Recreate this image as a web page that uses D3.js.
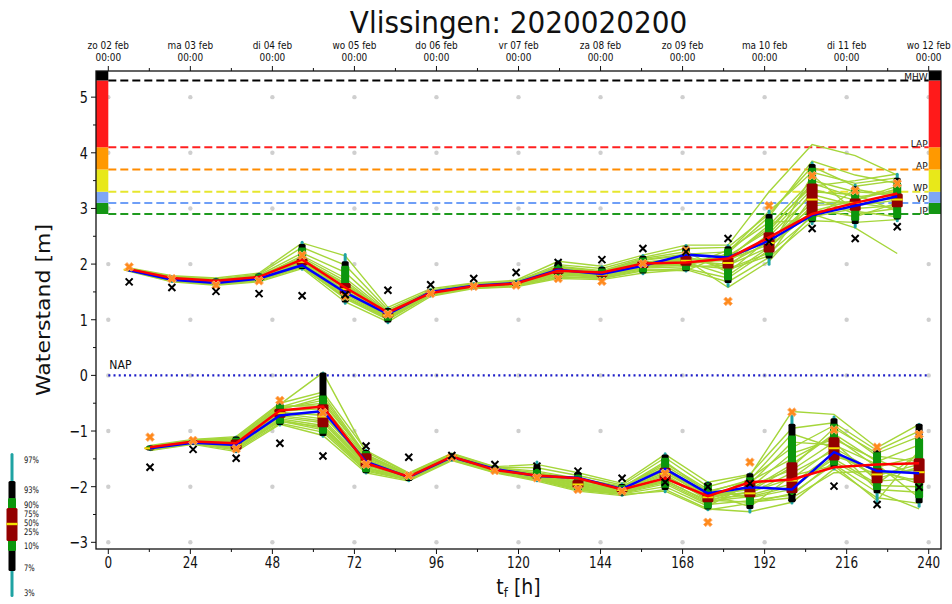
<!DOCTYPE html>
<html>
<head>
<meta charset="utf-8">
<script src="https://cdn.jsdelivr.net/npm/d3@7/dist/d3.min.js"></script>
<style>
  body { margin: 0; background: #fff; }
  text { font-family: "DejaVu Sans", sans-serif; fill: #111; }
</style>
</head>
<body>
<svg id="chart" width="952" height="604"></svg>
<script>
// ---- data ----
var titleText = "Vlissingen: 2020020200";
var dayLabels = ["zo 02 feb", "ma 03 feb", "di 04 feb", "wo 05 feb", "do 06 feb", "vr 07 feb",
                 "za 08 feb", "zo 09 feb", "ma 10 feb", "di 11 feb", "wo 12 feb"];
var hourTicks = [0, 24, 48, 72, 96, 120, 144, 168, 192, 216, 240];
var levelTicks = [-3, -2, -1, 0, 1, 2, 3, 4, 5];

// warning levels (m)
var levelNames  = ["IP", "VP", "WP", "AP", "LAP", "MHW"];
var levelValues = [2.9, 3.1, 3.3, 3.7, 4.1, 5.3];

// times of high water and low water (hours after 02 feb 00:00)
var tHW = [6.1, 18.6, 31.5, 44.1, 56.7, 69.3, 81.8, 94.3, 106.9, 119.3, 131.6, 144.4, 156.4, 169.0, 181.3, 193.3, 205.9, 218.5, 230.8];
var tLW = [12.2, 24.8, 37.4, 50.2, 62.8, 75.4, 87.9, 100.5, 113.1, 125.4, 137.4, 150.3, 162.9, 175.4, 187.7, 200.0, 212.3, 224.9, 237.2];

// ensemble percentiles per tide: 3, 7, 10, 25, 50, 75, 90, 93, 97 %
var pctLevels = [3, 7, 10, 25, 50, 75, 90, 93, 97];
var hwBox = [
  [1.86, 1.87, 1.88, 1.89, 1.90, 1.91, 1.92, 1.93, 1.94],
  [1.66, 1.68, 1.69, 1.71, 1.73, 1.76, 1.78, 1.79, 1.80],
  [1.60, 1.62, 1.63, 1.65, 1.68, 1.71, 1.73, 1.74, 1.76],
  [1.66, 1.68, 1.69, 1.72, 1.75, 1.79, 1.82, 1.83, 1.85],
  [1.88, 1.91, 1.93, 1.98, 2.04, 2.10, 2.30, 2.36, 2.42],
  [1.27, 1.31, 1.35, 1.46, 1.55, 1.66, 1.97, 2.05, 2.20],
  [0.92, 0.95, 0.98, 1.04, 1.08, 1.13, 1.18, 1.21, 1.24],
  [1.40, 1.42, 1.44, 1.46, 1.48, 1.51, 1.53, 1.55, 1.57],
  [1.54, 1.56, 1.57, 1.59, 1.61, 1.63, 1.65, 1.66, 1.68],
  [1.57, 1.59, 1.60, 1.62, 1.64, 1.67, 1.69, 1.70, 1.72],
  [1.70, 1.73, 1.76, 1.82, 1.87, 1.93, 2.00, 2.04, 2.08],
  [1.70, 1.72, 1.74, 1.77, 1.81, 1.85, 1.92, 1.95, 1.98],
  [1.80, 1.83, 1.85, 1.93, 2.00, 2.06, 2.12, 2.15, 2.18],
  [1.85, 1.87, 1.89, 1.97, 2.06, 2.15, 2.30, 2.33, 2.36],
  [1.58, 1.66, 1.71, 1.92, 2.02, 2.12, 2.28, 2.32, 2.36],
  [1.97, 2.10, 2.15, 2.21, 2.38, 2.57, 2.82, 2.90, 2.98],
  [2.70, 2.75, 2.78, 2.87, 3.16, 3.45, 3.73, 3.80, 3.85],
  [2.64, 2.72, 2.78, 2.96, 3.10, 3.18, 3.36, 3.40, 3.45],
  [2.75, 2.80, 2.82, 3.02, 3.16, 3.27, 3.46, 3.55, 3.64]
];
var lwBox = [
  [-1.36, -1.35, -1.34, -1.33, -1.31, -1.29, -1.27, -1.26, -1.25],
  [-1.25, -1.24, -1.23, -1.22, -1.20, -1.18, -1.16, -1.15, -1.14],
  [-1.40, -1.38, -1.36, -1.33, -1.24, -1.15, -1.12, -1.10, -1.08],
  [-0.92, -0.89, -0.87, -0.76, -0.68, -0.60, -0.52, -0.50, -0.47],
  [-1.12, -1.09, -1.05, -0.93, -0.74, -0.52, -0.36, 0.05, 0.07],
  [-1.78, -1.76, -1.74, -1.65, -1.55, -1.40, -1.36, -1.34, -1.32],
  [-1.92, -1.90, -1.88, -1.85, -1.82, -1.79, -1.76, -1.75, -1.74],
  [-1.55, -1.53, -1.52, -1.49, -1.46, -1.43, -1.41, -1.40, -1.39],
  [-1.76, -1.75, -1.74, -1.72, -1.70, -1.67, -1.65, -1.64, -1.63],
  [-1.92, -1.90, -1.88, -1.85, -1.82, -1.78, -1.68, -1.60, -1.53],
  [-2.10, -2.08, -2.06, -2.02, -1.96, -1.88, -1.78, -1.74, -1.70],
  [-2.18, -2.16, -2.14, -2.10, -2.06, -2.02, -1.97, -1.95, -1.92],
  [-2.12, -2.06, -2.02, -1.88, -1.77, -1.66, -1.48, -1.42, -1.38],
  [-2.44, -2.41, -2.39, -2.28, -2.19, -2.10, -1.94, -1.92, -1.90],
  [-2.48, -2.40, -2.33, -2.19, -2.12, -1.89, -1.83, -1.76, -1.74],
  [-2.32, -2.28, -2.15, -2.12, -1.89, -1.56, -1.08, -0.87, -0.66],
  [-1.71, -1.66, -1.62, -1.53, -1.31, -1.11, -0.87, -0.77, -0.72],
  [-2.33, -2.12, -2.06, -1.94, -1.78, -1.67, -1.38, -1.33, -1.30],
  [-2.38, -2.30, -2.21, -1.94, -1.74, -1.49, -1.13, -0.87, -0.85]
];

// blue and red forecast lines
var hwBlue = [1.89, 1.72, 1.66, 1.74, 1.98, 1.49, 1.10, 1.50, 1.61, 1.66, 1.90, 1.82, 1.97, 2.17, 2.12, 2.42, 2.88, 3.05, 3.22];
var hwRed  = [1.91, 1.75, 1.70, 1.77, 2.08, 1.58, 1.13, 1.48, 1.60, 1.65, 1.88, 1.85, 2.01, 2.03, 2.10, 2.48, 2.90, 3.10, 3.27];
var lwBlue = [-1.31, -1.21, -1.25, -0.72, -0.64, -1.55, -1.83, -1.47, -1.68, -1.81, -1.84, -2.04, -1.68, -2.12, -2.01, -2.05, -1.38, -1.72, -1.76];
var lwRed  = [-1.29, -1.19, -1.22, -0.63, -0.56, -1.58, -1.82, -1.46, -1.70, -1.80, -1.85, -2.05, -1.85, -2.17, -1.92, -1.87, -1.65, -1.60, -1.58];

// black crosses and orange markers
var hwBlack  = [1.68, 1.58, 1.51, 1.47, 1.43, 1.45, 1.53, 1.63, 1.74, 1.85, 2.03, 2.08, 2.28, 2.22, 2.46, 2.40, 2.64, 2.46, 2.67];
var hwOrange = [1.95, 1.74, 1.62, 1.70, 2.16, 1.42, 1.10, 1.47, 1.60, 1.62, 1.74, 1.69, 2.01, 2.24, 1.33, 3.05, 3.59, 3.32, 3.45];
var lwBlack  = [-1.65, -1.33, -1.49, -1.22, -1.45, -1.27, -1.47, -1.44, -1.60, -1.63, -1.72, -1.85, -1.92, -2.00, -1.94, -2.19, -1.99, -2.32, -2.01];
var lwOrange = [-1.11, -1.17, -1.32, -0.45, -0.67, -1.60, -1.80, -1.47, -1.71, -1.84, -2.05, -2.08, -1.76, -2.64, -1.56, -0.66, -0.98, -1.29, -1.06];

// a selection of the ensemble members (lime lines)
var hwMembers = [
  [1.90, 1.74, 1.69, 1.76, 2.05, 1.56, 1.08, 1.48, 1.61, 1.65, 1.88, 1.80, 2.01, 2.05, 2.00, 2.40, 3.10, 3.12, 3.18],
  [1.89, 1.72, 1.66, 1.73, 1.99, 1.48, 1.05, 1.46, 1.59, 1.62, 1.83, 1.77, 1.95, 1.98, 1.92, 2.20, 2.85, 3.00, 3.05],
  [1.91, 1.76, 1.71, 1.79, 2.12, 1.70, 1.12, 1.51, 1.63, 1.67, 1.93, 1.86, 2.07, 2.16, 2.15, 2.60, 3.45, 3.20, 3.30],
  [1.88, 1.70, 1.63, 1.70, 1.95, 1.38, 1.00, 1.44, 1.57, 1.60, 1.78, 1.74, 1.88, 1.92, 1.75, 2.25, 3.60, 2.95, 2.85],
  [1.92, 1.78, 1.73, 1.82, 2.30, 1.98, 1.18, 1.53, 1.65, 1.69, 1.99, 1.92, 2.12, 2.28, 2.30, 2.90, 3.75, 3.40, 3.50],
  [1.90, 1.73, 1.67, 1.74, 2.02, 1.60, 1.10, 1.49, 1.62, 1.64, 1.85, 1.83, 2.02, 2.10, 2.05, 2.50, 3.25, 3.05, 3.15],
  [1.87, 1.68, 1.62, 1.68, 1.92, 1.32, 0.96, 1.42, 1.56, 1.59, 1.74, 1.72, 1.84, 1.90, 1.68, 2.12, 2.78, 2.75, 2.80],
  [1.93, 1.79, 1.75, 1.84, 2.38, 2.15, 1.22, 1.56, 1.66, 1.71, 2.05, 1.96, 2.16, 2.34, 2.34, 3.30, 4.15, 3.95, 3.60],
  [1.90, 1.75, 1.70, 1.77, 2.08, 1.66, 1.13, 1.50, 1.60, 1.66, 1.90, 1.79, 1.98, 2.02, 2.10, 2.70, 3.50, 3.30, 3.25],
  [1.89, 1.71, 1.65, 1.72, 1.97, 1.45, 1.04, 1.47, 1.58, 1.63, 1.81, 1.76, 1.93, 1.95, 1.98, 2.30, 2.95, 3.15, 3.40],
  [1.91, 1.74, 1.68, 1.75, 2.06, 1.52, 1.07, 1.48, 1.61, 1.64, 1.87, 1.82, 2.00, 2.08, 1.58, 2.05, 2.90, 2.65, 2.19],
  [1.88, 1.69, 1.64, 1.71, 1.94, 1.40, 1.02, 1.45, 1.58, 1.61, 1.76, 1.75, 1.90, 1.88, 2.20, 2.85, 3.85, 3.60, 3.45],
  [1.92, 1.77, 1.72, 1.80, 2.20, 1.85, 1.15, 1.52, 1.64, 1.68, 1.96, 1.88, 2.10, 2.22, 1.85, 2.45, 3.00, 2.85, 3.10],
  [1.90, 1.72, 1.67, 1.74, 2.00, 1.50, 1.06, 1.47, 1.60, 1.63, 1.84, 1.80, 1.96, 2.00, 2.08, 2.35, 3.30, 3.25, 2.95],
  [1.89, 1.73, 1.68, 1.75, 2.03, 1.58, 1.09, 1.49, 1.62, 1.65, 1.86, 1.81, 2.03, 2.12, 1.95, 2.55, 3.35, 3.15, 3.35],
  [1.91, 1.75, 1.70, 1.78, 2.10, 1.62, 1.11, 1.50, 1.61, 1.66, 1.91, 1.84, 2.05, 1.96, 2.25, 2.75, 2.80, 3.35, 3.20],
  [1.88, 1.71, 1.65, 1.72, 1.96, 1.42, 1.03, 1.45, 1.58, 1.62, 1.80, 1.78, 1.92, 2.14, 1.90, 2.15, 3.20, 2.90, 3.00],
  [1.90, 1.74, 1.69, 1.77, 2.15, 1.75, 1.14, 1.51, 1.63, 1.67, 1.95, 1.86, 2.08, 2.18, 2.22, 2.95, 3.65, 3.45, 3.55],
  [1.89, 1.72, 1.66, 1.73, 2.01, 1.53, 1.06, 1.47, 1.59, 1.64, 1.85, 1.79, 1.99, 2.04, 1.80, 2.30, 3.05, 3.10, 3.00],
  [1.91, 1.76, 1.71, 1.76, 2.07, 1.64, 1.10, 1.49, 1.60, 1.65, 1.89, 1.83, 2.04, 2.07, 2.12, 2.65, 3.40, 3.50, 3.62]
];
var lwMembers = [
  [-1.31, -1.20, -1.22, -0.66, -0.72, -1.55, -1.82, -1.46, -1.70, -1.80, -1.95, -2.05, -1.75, -2.18, -2.10, -1.85, -1.30, -1.75, -1.70],
  [-1.33, -1.22, -1.30, -0.80, -0.95, -1.68, -1.86, -1.50, -1.73, -1.86, -2.04, -2.12, -1.95, -2.32, -2.25, -2.15, -1.55, -1.98, -2.00],
  [-1.29, -1.18, -1.15, -0.58, -0.50, -1.42, -1.78, -1.43, -1.67, -1.75, -1.86, -2.00, -1.62, -2.08, -1.90, -1.50, -1.10, -1.65, -1.45],
  [-1.35, -1.24, -1.37, -0.88, -1.08, -1.75, -1.90, -1.53, -1.75, -1.90, -2.08, -2.16, -2.05, -2.40, -2.45, -2.28, -1.68, -2.20, -2.30],
  [-1.26, -1.15, -1.10, -0.50, -0.30, -1.35, -1.75, -1.40, -1.64, -1.60, -1.75, -1.94, -1.42, -1.92, -1.78, -0.95, -0.85, -1.35, -1.00],
  [-1.30, -1.19, -1.20, -0.70, -0.65, -1.50, -1.80, -1.45, -1.69, -1.82, -1.98, -2.07, -1.80, -2.22, -2.15, -1.95, -1.40, -1.80, -1.60],
  [-1.32, -1.21, -1.27, -0.75, -0.85, -1.62, -1.84, -1.48, -1.72, -1.84, -2.00, -2.09, -1.88, -2.28, -1.98, -1.70, -1.20, -1.90, -1.85],
  [-1.28, -1.16, -1.12, -0.52, 0.05, -1.38, -1.76, -1.41, -1.65, -1.66, -1.80, -1.97, -1.48, -2.00, -1.80, -0.65, -0.70, -1.30, -0.88],
  [-1.34, -1.23, -1.34, -0.86, -1.02, -1.72, -1.88, -1.52, -1.74, -1.88, -2.06, -2.14, -2.08, -2.42, -2.30, -2.12, -1.60, -2.10, -2.40],
  [-1.31, -1.20, -1.25, -0.68, -0.78, -1.58, -1.83, -1.47, -1.71, -1.83, -1.94, -2.04, -1.72, -2.15, -2.05, -1.60, -1.05, -1.55, -1.25],
  [-1.30, -1.19, -1.18, -0.62, -0.40, -1.45, -1.79, -1.44, -1.68, -1.78, -1.90, -2.02, -1.58, -2.05, -2.20, -2.05, -1.45, -1.70, -1.95],
  [-1.32, -1.22, -1.28, -0.78, -0.90, -1.65, -1.85, -1.49, -1.72, -1.85, -2.02, -2.10, -1.90, -2.25, -1.85, -1.30, -0.90, -1.45, -1.55],
  [-1.29, -1.17, -1.14, -0.55, -0.55, -1.48, -1.77, -1.42, -1.66, -1.72, -1.85, -1.99, -1.66, -2.12, -2.36, -1.80, -1.62, -2.25, -1.35],
  [-1.33, -1.21, -1.32, -0.82, -0.98, -1.70, -1.87, -1.51, -1.73, -1.87, -2.05, -2.13, -2.00, -2.35, -1.95, -1.20, -1.25, -1.60, -2.20],
  [-1.30, -1.20, -1.21, -0.64, -0.60, -1.52, -1.81, -1.45, -1.69, -1.81, -1.93, -2.03, -1.70, -2.16, -2.12, -1.75, -1.35, -1.85, -1.65],
  [-1.32, -1.21, -1.26, -0.72, -0.82, -1.60, -1.84, -1.48, -1.71, -1.84, -1.99, -2.08, -1.85, -2.20, -2.02, -1.40, -1.15, -1.52, -1.80],
  [-1.31, -1.19, -1.19, -0.60, -0.45, -1.46, -1.80, -1.44, -1.69, -1.79, -1.92, -2.06, -1.68, -2.26, -2.18, -2.00, -1.50, -1.95, -1.40],
  [-1.33, -1.22, -1.31, -0.83, -0.92, -1.66, -1.86, -1.50, -1.73, -1.86, -2.03, -2.11, -1.92, -2.30, -2.08, -1.65, -0.95, -1.40, -1.10],
  [-1.29, -1.18, -1.16, -0.57, -0.35, -1.43, -1.78, -1.43, -1.67, -1.76, -1.88, -2.01, -1.55, -2.10, -1.88, -1.05, -1.30, -2.05, -2.10],
  [-1.31, -1.20, -1.23, -0.69, -0.70, -1.56, -1.82, -1.46, -1.70, -1.82, -1.96, -2.05, -1.78, -2.24, -2.28, -2.20, -1.75, -1.72, -1.90]
];

// ---- layout ----
var svg = d3.select("#chart");
var plot = {left: 96, right: 941, top: 71, bottom: 549};
var sx = 0.85; // the original figure is a bit squeezed sideways, so is its text

var x = d3.scaleLinear().domain([-3.6, 243.6]).range([plot.left, plot.right]);
var y = d3.scaleLinear().domain([-3.12, 5.47]).range([plot.bottom, plot.top]);

// colours for the level bands/lines, same order as levelNames
var levelColors = ["#149614", "#7ea6f5", "#e8e81a", "#ff9900", "#ff1a1a", "#000000"];
var lineColors  = ["#1f9a1f", "#6f9ff7", "#e6e62e", "#ff8c00", "#ff2020", "#000000"];

// small helper for squeezed text
function label(g, px, py, txt, size, anchor, squeeze) {
  return g.append("text")
    .attr("transform", "translate(" + px + "," + py + ") scale(" + (squeeze || sx) + ",1)")
    .attr("text-anchor", anchor || "middle")
    .style("font-size", size + "px")
    .text(txt);
}

svg.append("defs").append("clipPath").attr("id", "clip")
  .append("rect").attr("x", plot.left).attr("y", plot.top)
  .attr("width", plot.right - plot.left).attr("height", plot.bottom - plot.top);

var g = svg.append("g").attr("clip-path", "url(#clip)");

// grey dots on every 24h / 1m crossing
hourTicks.forEach(function(h) {
  levelTicks.forEach(function(v) {
    g.append("circle").attr("cx", x(h)).attr("cy", y(v)).attr("r", 2.2).style("fill", "#cfcfcf");
  });
});

// colour bars on both sides: band i runs from level i up to level i+1 (last one to the top)
var bandTops = levelValues.slice(1).concat([y.domain()[1]]);
levelValues.forEach(function(v, i) {
  [[-3.6, 0], [240, 243.6]].forEach(function(side) {
    g.append("rect")
      .attr("x", x(side[0])).attr("width", x(side[1]) - x(side[0]))
      .attr("y", y(bandTops[i])).attr("height", y(v) - y(bandTops[i]))
      .style("fill", levelColors[i]);
  });
});

// dashed level lines
levelValues.forEach(function(v, i) {
  g.append("line")
    .attr("x1", x(0)).attr("x2", x(240)).attr("y1", y(v)).attr("y2", y(v))
    .style("stroke", lineColors[i]).style("stroke-width", 2)
    .style("stroke-dasharray", "8,4");
});

// NAP dotted line
g.append("line")
  .attr("x1", x(0)).attr("x2", x(240)).attr("y1", y(0)).attr("y2", y(0))
  .style("stroke", "#1f1fc8").style("stroke-width", 2.2)
  .style("stroke-dasharray", "2,3.2");

var line = d3.line().x(function(d) { return x(d[0]); }).y(function(d) { return y(d[1]); });
function pairs(ts, vs) { return ts.map(function(t, i) { return [t, vs[i]]; }); }

// ensemble members
hwMembers.forEach(function(m) {
  g.append("path").attr("d", line(pairs(tHW, m)))
    .style("fill", "none").style("stroke", "#a5d63a").style("stroke-width", 1.4);
});
lwMembers.forEach(function(m) {
  g.append("path").attr("d", line(pairs(tLW, m)))
    .style("fill", "none").style("stroke", "#a5d63a").style("stroke-width", 1.4);
});

// percentile boxes: [low index, high index, colour, width]
var boxLayers = [[0, 8, "#1fa3a3", 3], [1, 7, "#000000", 7], [2, 6, "#0c960c", 8], [3, 5, "#930000", 11]];
function drawBoxes(ts, box) {
  ts.forEach(function(t, i) {
    var q = box[i];
    boxLayers.forEach(function(L) {
      g.append("rect")
        .attr("x", x(t) - L[3] / 2).attr("width", L[3])
        .attr("y", y(q[L[1]])).attr("height", Math.max(1.5, y(q[L[0]]) - y(q[L[1]])))
        .attr("rx", 1.5)
        .style("fill", L[2]);
    });
    // median
    g.append("rect").attr("x", x(t) - 5.5).attr("width", 11)
      .attr("y", y(q[4]) - 1).attr("height", 2).style("fill", "#f2e200");
  });
}
drawBoxes(tHW, hwBox);
drawBoxes(tLW, lwBox);

// blue then red lines
[[tHW, hwBlue], [tLW, lwBlue]].forEach(function(s) {
  g.append("path").attr("d", line(pairs(s[0], s[1])))
    .style("fill", "none").style("stroke", "#0000ff").style("stroke-width", 2.5);
});
[[tHW, hwRed], [tLW, lwRed]].forEach(function(s) {
  g.append("path").attr("d", line(pairs(s[0], s[1])))
    .style("fill", "none").style("stroke", "#ff0000").style("stroke-width", 2.5);
});

// markers
var orangeSym = d3.symbol().type(d3.symbolCross).size(48);
[[tHW, hwOrange], [tLW, lwOrange]].forEach(function(s) {
  s[0].forEach(function(t, i) {
    g.append("path").attr("d", orangeSym())
      .attr("transform", "translate(" + x(t) + "," + y(s[1][i]) + ") rotate(45)")
      .style("fill", "#ff8a1c").style("stroke", "#ffb070").style("stroke-width", 0.8);
  });
});
[[tHW, hwBlack], [tLW, lwBlack]].forEach(function(s) {
  s[0].forEach(function(t, i) {
    g.append("path").attr("d", "M-3.5,-3.5L3.5,3.5M-3.5,3.5L3.5,-3.5")
      .attr("transform", "translate(" + x(t) + "," + y(s[1][i]) + ")")
      .style("stroke", "#000").style("stroke-width", 2);
  });
});

// level labels on the right (small, they sit close together), NAP on the left
levelValues.forEach(function(v, i) {
  label(svg, x(240) - 1, y(v) - 0.5, levelNames[i], 9.5, "end", 0.95);
});
label(svg, x(0) + 1, y(0) - 6, "NAP", 11.5, "start", 0.95);

// ---- axes ----
var axes = svg.append("g");
axes.append("rect")
  .attr("x", plot.left).attr("y", plot.top)
  .attr("width", plot.right - plot.left).attr("height", plot.bottom - plot.top)
  .style("fill", "none").style("stroke", "#111").style("stroke-width", 1.3);

// bottom axis: major ticks every 24h, minor ticks in between
hourTicks.forEach(function(h, i) {
  axes.append("line").attr("x1", x(h)).attr("x2", x(h)).attr("y1", plot.bottom).attr("y2", plot.bottom + 5)
    .style("stroke", "#111");
  label(axes, x(h), plot.bottom + 19, h, 15, "middle", 0.8);
  // top axis with the dates
  axes.append("line").attr("x1", x(h)).attr("x2", x(h)).attr("y1", plot.top).attr("y2", plot.top - 5)
    .style("stroke", "#111");
  label(axes, x(h), 49, dayLabels[i], 10.5, "middle");
  label(axes, x(h), 61, "00:00", 10.5, "middle");
  if (h < 240) {
    axes.append("line").attr("x1", x(h + 12)).attr("x2", x(h + 12)).attr("y1", plot.bottom).attr("y2", plot.bottom + 3)
      .style("stroke", "#111");
    axes.append("line").attr("x1", x(h + 12)).attr("x2", x(h + 12)).attr("y1", plot.top).attr("y2", plot.top - 3)
      .style("stroke", "#111");
  }
});

// left axis
levelTicks.forEach(function(v) {
  axes.append("line").attr("x1", plot.left - 5).attr("x2", plot.left).attr("y1", y(v)).attr("y2", y(v))
    .style("stroke", "#111");
  label(axes, plot.left - 8, y(v) + 6, v < 0 ? "\u2212" + (-v) : v, 16, "end", 0.8);
  if (v < 5) {
    axes.append("line").attr("x1", plot.left - 3).attr("x2", plot.left).attr("y1", y(v + 0.5)).attr("y2", y(v + 0.5))
      .style("stroke", "#111");
  }
});

// titles
label(svg, (plot.left + plot.right) / 2, 33, titleText, 31, "middle", 0.9);
svg.append("text")
  .attr("transform", "translate(50," + (plot.top + plot.bottom) / 2 + ") rotate(-90) scale(1,0.85)")
  .attr("text-anchor", "middle").style("font-size", "22px")
  .text("Waterstand [m]");
var xl = svg.append("text")
  .attr("transform", "translate(" + (plot.left + plot.right) / 2 + ",594) scale(0.9,1)")
  .attr("text-anchor", "middle").style("font-size", "21px");
xl.append("tspan").text("t");
xl.append("tspan").attr("dy", 3).style("font-size", "13px").text("f");
xl.append("tspan").attr("dy", -3).text(" [h]");

// ---- percentile legend, bottom left ----
var legY = d3.scaleLinear().domain(pctLevels).range([597, 571, 551, 541, 524, 508, 498, 481, 453]);
var legLabelY = d3.scaleLinear().domain(pctLevels).range([596, 571, 549, 535, 526, 517, 508, 493, 463]);
var leg = svg.append("g");
var legX = 12;
boxLayers.forEach(function(L) {
  leg.append("rect")
    .attr("x", legX - L[3] / 2).attr("width", L[3])
    .attr("y", legY(pctLevels[L[1]])).attr("height", legY(pctLevels[L[0]]) - legY(pctLevels[L[1]]))
    .attr("rx", 1.5).style("fill", L[2]);
});
leg.append("rect").attr("x", legX - 5.5).attr("width", 11).attr("y", legY(50) - 1.2).attr("height", 2.4)
  .style("fill", "#f2e200");
pctLevels.forEach(function(p) {
  label(leg, 24, legLabelY(p), p + "%", 9, "start", 0.75);
});
</script>
</body>
</html>
